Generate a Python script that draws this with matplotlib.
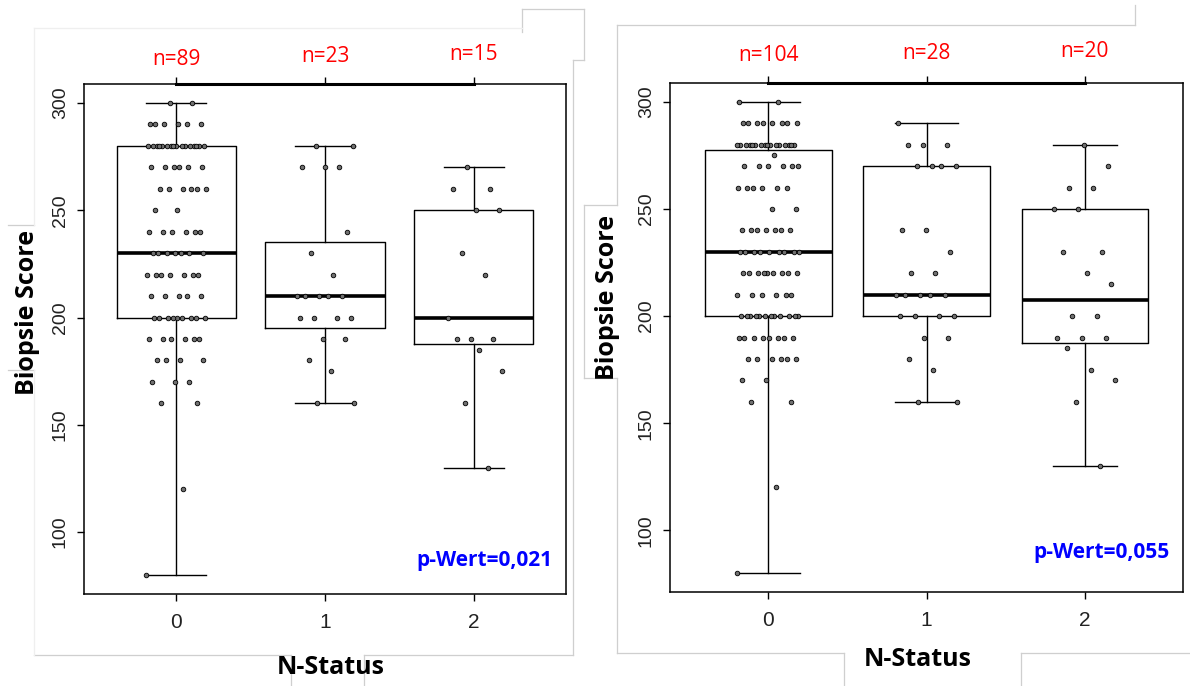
import numpy as np
import matplotlib
matplotlib.use("Agg")
import matplotlib.pyplot as plt
from matplotlib.lines import Line2D

# Biopsie score levels and number of patients on each level, per N-Status group
# left panel
l0_levels = [80, 120, 160, 170, 180, 190, 200, 210, 220, 230, 240, 250, 260, 270, 280, 290, 300]
l0_counts = [1, 1, 2, 3, 4, 6, 9, 5, 7, 7, 6, 2, 6, 6, 16, 6, 2]
l1_levels = [160, 175, 180, 190, 200, 210, 220, 230, 240, 270, 280]
l1_counts = [2, 1, 1, 2, 4, 5, 1, 1, 1, 3, 2]
l2_levels = [130, 160, 175, 185, 190, 200, 220, 230, 250, 260, 270]
l2_counts = [1, 1, 1, 1, 3, 1, 1, 1, 2, 2, 1]
# right panel
r0_levels = [80, 120, 160, 170, 180, 190, 200, 210, 220, 230, 240, 250, 260, 270, 275, 280, 290, 300]
r0_counts = [1, 1, 2, 2, 6, 8, 12, 6, 9, 9, 7, 2, 6, 6, 1, 16, 8, 2]
r1_levels = [160, 175, 180, 190, 200, 210, 220, 230, 240, 270, 280, 290]
r1_counts = [2, 1, 1, 2, 4, 5, 2, 1, 2, 4, 3, 1]
r2_levels = [130, 160, 170, 175, 185, 190, 200, 215, 220, 230, 250, 260, 270, 280]
r2_counts = [1, 1, 1, 1, 1, 3, 2, 1, 1, 2, 2, 2, 1, 1]

groups = ["0", "1", "2"]
left_n = ["n=89", "n=23", "n=15"]
right_n = ["n=104", "n=28", "n=20"]
left_p = "p-Wert=0,021"
right_p = "p-Wert=0,055"
yticks = [100, 150, 200, 250, 300]

W, H = 1190, 686
fig = plt.figure(figsize=(W / 100, H / 100), dpi=100)
fig.patch.set_facecolor("white")

LABEL_FONT = "Open Sans"
TICK_FONT = "Liberation Sans"


def px_axes(x0, y0, x1, y1):
    return fig.add_axes([x0 / W, 1 - y1 / H, (x1 - x0) / W, (y1 - y0) / H])


def gline(x0, y0, x1, y1, color="#cfcfcf"):
    fig.add_artist(Line2D([x0 / W, x1 / W], [1 - y0 / H, 1 - y1 / H],
                          transform=fig.transFigure, color=color, lw=0.9))


def fivenum(v):
    # Tukey hinges, like R's boxplot.stats
    v = np.sort(np.asarray(v, dtype=float))
    n = len(v)
    n4 = np.floor((n + 3) / 2) / 2
    d = np.array([1, n4, (n + 1) / 2, n + 1 - n4, n]) - 1
    return 0.5 * (v[np.floor(d).astype(int)] + v[np.ceil(d).astype(int)])


def panel(ax, data, ns, ptxt, n_y, p_y):
    stats = []
    for v in data:
        lo, q1, med, q3, hi = fivenum(v)
        stats.append(dict(whislo=lo, q1=q1, med=med, q3=q3, whishi=hi, fliers=[]))
    ax.bxp(stats, positions=[0, 1, 2], widths=0.8, showfliers=False, capwidths=0.4,
           boxprops=dict(color="black", lw=1.0),
           whiskerprops=dict(color="black", lw=1.0),
           capprops=dict(color="black", lw=1.0),
           medianprops=dict(color="black", lw=2.6))

    # horizontal jitter (deterministic, golden-ratio spread), +-0.2 like R jitter()
    for g, v in enumerate(data):
        k = np.arange(len(v))
        dx = ((k * 0.6180339887 + 0.37 * g) % 1 - 0.5) * 0.4
        ax.plot(g + dx, v, "o", ms=3.3, mfc="#707070", mec="black", mew=0.6,
                zorder=3, clip_on=False)

    ax.set_xlim(-0.62, 2.62)
    ax.set_ylim(71.2, 308.8)
    for s in ax.spines.values():
        s.set_color("black")
        s.set_linewidth(1.1)

    ax.set_xticks([0, 1, 2], groups)
    ax.set_yticks(yticks, [str(t) for t in yticks])
    ax.tick_params(axis="x", top=True, direction="out", length=5, width=1,
                   pad=9, labelsize=15)
    ax.tick_params(axis="y", direction="out", length=5, width=1, pad=6, labelsize=14)
    for lab in ax.get_yticklabels():
        lab.set_rotation(90)
        lab.set_va("center")
        lab.set_fontfamily(TICK_FONT)
        lab.set_color("#222222")
    for lab in ax.get_xticklabels():
        lab.set_fontfamily(TICK_FONT)
        lab.set_color("#222222")

    # top axis line across the group positions
    ax.plot([0, 2], [308.8, 308.8], color="black", lw=2.2, clip_on=False, zorder=4)

    tr = ax.get_xaxis_transform()
    for i, (lab, yy) in enumerate(zip(ns, n_y)):
        ax.text(i, yy, lab, transform=tr, ha="center", va="center", color="red",
                fontsize=15, family=LABEL_FONT)

    ax.text(0.973, p_y, ptxt, transform=ax.transAxes, ha="right", va="center",
            color="blue", fontsize=15, fontweight="bold", family=LABEL_FONT)


def expand(levels, counts):
    return np.repeat(levels, counts)


# slide artefacts (outlines of the pasted images / text boxes)
for seg in [
    # left image
    (522, 9, 584, 9), (522, 9, 522, 32), (584, 9, 584, 60), (573, 60, 584, 60),
    (573, 60, 573, 655), (34, 655, 291, 655), (364, 655, 573, 655),
    (291, 655, 291, 686), (364, 655, 364, 686),
    (8, 225, 34, 225), (8, 370, 34, 370),
    # right image
    (617, 25, 1135, 25), (1135, 5, 1135, 25), (617, 25, 617, 205),
    (584, 205, 617, 205), (584, 205, 584, 378), (584, 378, 617, 378),
    (617, 378, 617, 653), (617, 653, 844, 653), (1021, 653, 1190, 653),
    (844, 653, 844, 686), (1021, 653, 1021, 686),
]:
    gline(*seg)
for seg in [(34, 28, 522, 28), (34, 28, 34, 225), (34, 370, 34, 655)]:
    gline(*seg, color="#efefef")

axL = px_axes(84, 84, 566, 594)
panel(axL,
      [expand(l0_levels, l0_counts), expand(l1_levels, l1_counts), expand(l2_levels, l2_counts)],
      left_n, left_p, [1.048, 1.053, 1.057], 0.066)

axR = px_axes(670, 83, 1183, 592)
panel(axR,
      [expand(r0_levels, r0_counts), expand(r1_levels, r1_counts), expand(r2_levels, r2_counts)],
      right_n, right_p, [1.055, 1.057, 1.061], 0.078)

# axis titles (bold text boxes on the slide)
fig.text(28 / W, 1 - 312 / H, "Biopsie Score", rotation=90, ha="center", va="center",
         fontsize=18, fontweight="bold", family=LABEL_FONT)
fig.text(331 / W, 1 - 667 / H, "N-Status", ha="center", va="center",
         fontsize=18, fontweight="bold", family=LABEL_FONT)
fig.text(608 / W, 1 - 297 / H, "Biopsie Score", rotation=90, ha="center", va="center",
         fontsize=18, fontweight="bold", family=LABEL_FONT)
fig.text(918 / W, 1 - 660 / H, "N-Status", ha="center", va="center",
         fontsize=18, fontweight="bold", family=LABEL_FONT)

fig.savefig("out.png", dpi=100)
